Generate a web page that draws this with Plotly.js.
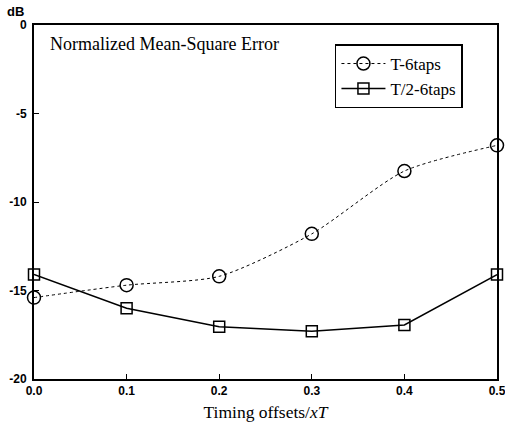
<!DOCTYPE html>
<html>
<head>
<meta charset="utf-8">
<script src="https://cdn.plot.ly/plotly-3.0.1.min.js"></script>
<style>html,body{margin:0;padding:0;background:#fff;}#chart{width:505px;height:426px;}</style>
</head>
<body>
<div id="chart"></div>
<script>
var offsets = [0.0, 0.1, 0.2, 0.3, 0.4, 0.5];
var t6taps = [-15.4, -14.7, -14.2, -11.8, -8.25, -6.8];
var t2_6taps = [-14.1, -16.0, -17.05, -17.3, -16.95, -14.1];
var xTickVals = [0.0, 0.1, 0.2, 0.3, 0.4, 0.5];
var xTickText = ['0.0', '0.1', '0.2', '0.3', '0.4', '0.5'];
var yTickVals = [0, -5, -10, -15, -20];
var yTickText = ['0', '-5', '-10', '-15', '-20'];

var serif = 'Liberation Serif, Times New Roman, serif';
var sans = 'Liberation Sans, Arial, sans-serif';

var traces = [
  {
    x: offsets, y: t6taps, name: 'T-6taps', type: 'scatter', mode: 'lines+markers',
    line: {color: '#000', width: 1, dash: 'dot', shape: 'spline', smoothing: 0.7},
    marker: {symbol: 'circle-open', size: 13, color: '#000', line: {width: 1.5, color: '#000'}},
    cliponaxis: false
  },
  {
    x: offsets, y: t2_6taps, name: 'T/2-6taps', type: 'scatter', mode: 'lines+markers',
    line: {color: '#000', width: 1.5},
    marker: {symbol: 'square-open', size: 11, color: '#000', line: {width: 1.5, color: '#000'}},
    cliponaxis: false
  }
];

var layout = {
  width: 505, height: 426,
  margin: {l: 34, r: 8, t: 25, b: 47},
  paper_bgcolor: '#fff', plot_bgcolor: '#fff',
  showlegend: true,
  legend: {
    x: 0.65, y: 0.945, xanchor: 'left', yanchor: 'top',
    bgcolor: '#fff', bordercolor: '#000', borderwidth: 1.5,
    font: {family: serif, size: 17, color: '#000'},
    itemwidth: 44, tracegroupgap: 0
  },
  xaxis: {
    range: [0, 0.5], tickvals: xTickVals, ticktext: xTickText,
    showgrid: false, zeroline: false, showline: true, linecolor: '#000', linewidth: 2,
    mirror: true, ticks: 'inside', ticklen: 5, tickcolor: '#000', tickwidth: 1,
    ticklabeloverflow: 'allow',
    tickfont: {family: sans, size: 12, color: '#000', weight: 'bold'},
    title: {text: 'Timing offsets/<i>xT</i>', font: {family: serif, size: 17.5, color: '#000'}, standoff: 8}
  },
  yaxis: {
    range: [-20, 0], tickvals: yTickVals, ticktext: yTickText,
    showgrid: false, zeroline: false, showline: true, linecolor: '#000', linewidth: 2,
    mirror: true, ticks: 'inside', ticklen: 5, tickcolor: '#000', tickwidth: 1,
    ticklabeloverflow: 'allow',
    tickfont: {family: sans, size: 12, color: '#000', weight: 'bold'},
    ticklabelstandoff: 3
  },
  annotations: [
    {text: 'dB', xref: 'paper', yref: 'paper', x: -0.04, y: 1.0, xanchor: 'center', yanchor: 'bottom',
     yshift: 5, borderpad: 0,
     showarrow: false, font: {family: sans, size: 13, color: '#000', weight: 'bold'}},
    {text: 'Normalized Mean-Square Error', xref: 'paper', yref: 'paper', x: 0.03, y: 0.947,
     xanchor: 'left', yanchor: 'middle', showarrow: false,
     font: {family: serif, size: 18, color: '#000'}}
  ]
};

Plotly.newPlot('chart', traces, layout, {displayModeBar: false, staticPlot: true});
</script>
</body>
</html>
